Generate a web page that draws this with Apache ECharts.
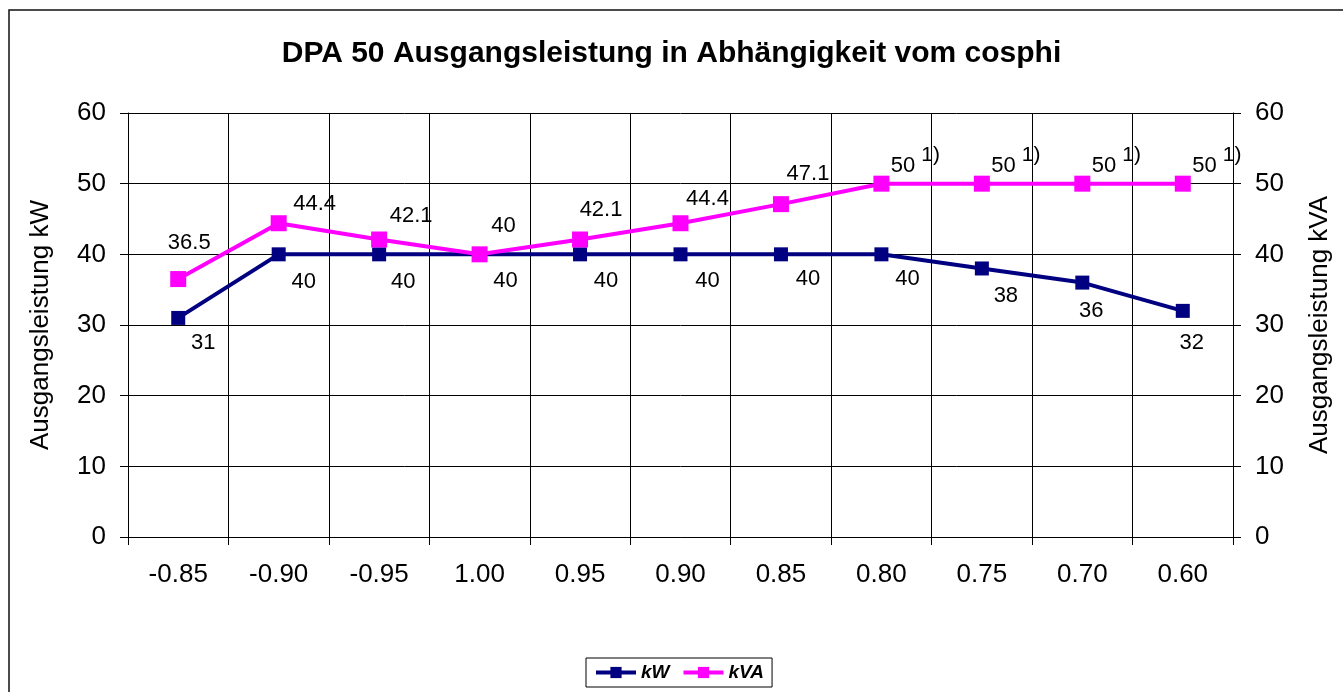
<!DOCTYPE html>
<html>
<head>
<meta charset="utf-8">
<script src="https://cdn.jsdelivr.net/npm/echarts@6/dist/echarts.min.js"></script>
<style>
html,body{margin:0;padding:0;background:#fff;}
#chart{width:1343px;height:692px;}
</style>
</head>
<body>
<div id="chart"></div>
<script>
// ---- data ----
const categories = ['-0.85', '-0.90', '-0.95', '1.00', '0.95', '0.90', '0.85', '0.80', '0.75', '0.70', '0.60'];
const kW = [31, 40, 40, 40, 40, 40, 40, 40, 38, 36, 32];
const kVA = [36.5, 44.4, 42.1, 40, 42.1, 44.4, 47.1, 50, 50, 50, 50];
const kVANotes = ['', '', '', '', '', '', '', '1)', '1)', '1)', '1)'];
const yTicks = [0, 10, 20, 30, 40, 50, 60];

// ---- label placement (style) ----
const kWOffsets = [[25, 25], [25, 28], [24, 28], [26, 27], [26, 27], [27, 27], [27, 25], [26, 25], [24, 27], [9, 28], [9, 32]];
const kVAOffsets = [[11, -36], [36, -19], [32, -24], [24, -28], [21, -30], [27, -24], [27, -30], [34, -23], [34, -23], [34, -23], [34, -23]];

const FONT = '"Liberation Sans", Arial, sans-serif';
const chart = echarts.init(document.getElementById('chart'), null, {renderer: 'canvas'});

const kWData = kW.map((v, i) => ({
  value: v,
  label: {offset: kWOffsets[i]}
}));
const kVAData = kVA.map((v, i) => ({
  value: v,
  label: {offset: kVAOffsets[i]}
}));

const labelBase = {
  show: true,
  position: 'inside',
  color: '#000',
  fontFamily: FONT,
  fontSize: 22
};

chart.setOption({
  animation: false,
  backgroundColor: '#fff',
  textStyle: {fontFamily: FONT},
  title: {
    text: 'DPA 50 Ausgangsleistung in Abhängigkeit vom cosphi',
    left: 'center',
    top: 34,
    textStyle: {fontFamily: FONT, fontWeight: 'bold', fontSize: 30, color: '#000'}
  },
  graphic: [{
    type: 'rect',
    shape: {x: 9, y: 10, width: 1400, height: 800},
    style: {fill: 'none', stroke: '#111', lineWidth: 1.5},
    silent: true,
    z: -1
  }],
  legend: {
    left: 586,
    top: 658,
    padding: [5, 8],
    itemGap: 12,
    itemWidth: 40,
    itemHeight: 14,
    borderColor: '#000',
    borderWidth: 1,
    lineStyle: {width: 4},
    textStyle: {fontFamily: FONT, fontSize: 19, fontWeight: 'bold', fontStyle: 'italic', color: '#000'},
    data: ['kW', 'kVA']
  },
  grid: {left: 128, right: 110, top: 113, bottom: 155},
  xAxis: {
    type: 'category',
    data: categories,
    boundaryGap: true,
    axisLine: {show: true, lineStyle: {color: '#000', width: 1}},
    axisTick: {show: true, length: 8, lineStyle: {color: '#000'}},
    splitLine: {show: true, lineStyle: {color: '#000', width: 1}},
    axisLabel: {color: '#000', fontFamily: FONT, fontSize: 26, margin: 25}
  },
  yAxis: [{
    type: 'value',
    min: yTicks[0],
    max: yTicks[yTicks.length - 1],
    interval: 10,
    name: 'Ausgangsleistung kW',
    nameLocation: 'middle',
    nameRotate: 90,
    nameGap: 74,
    nameTextStyle: {fontFamily: FONT, fontSize: 26, color: '#000'},
    axisLine: {show: true, lineStyle: {color: '#000', width: 1}},
    axisTick: {show: true, length: 8, lineStyle: {color: '#000'}},
    splitLine: {show: true, lineStyle: {color: '#000', width: 1}},
    axisLabel: {color: '#000', fontFamily: FONT, fontSize: 26, margin: 22}
  }, {
    type: 'value',
    position: 'right',
    min: yTicks[0],
    max: yTicks[yTicks.length - 1],
    interval: 10,
    name: 'Ausgangsleistung kVA',
    nameLocation: 'middle',
    nameRotate: 90,
    nameGap: 74,
    nameTextStyle: {fontFamily: FONT, fontSize: 26, color: '#000'},
    axisLine: {show: true, lineStyle: {color: '#000', width: 1}},
    axisTick: {show: true, length: 8, lineStyle: {color: '#000'}},
    splitLine: {show: false},
    axisLabel: {color: '#000', fontFamily: FONT, fontSize: 26, margin: 22}
  }],
  series: [{
    name: 'kW',
    type: 'line',
    yAxisIndex: 0,
    data: kWData,
    symbol: 'rect',
    symbolSize: 14,
    itemStyle: {color: '#000080'},
    lineStyle: {color: '#000080', width: 4},
    label: Object.assign({}, labelBase, {formatter: p => String(p.value)}),
    z: 3
  }, {
    name: 'kVA',
    type: 'line',
    yAxisIndex: 1,
    data: kVAData,
    symbol: 'rect',
    symbolSize: 16,
    itemStyle: {color: '#FF00FF'},
    lineStyle: {color: '#FF00FF', width: 4},
    label: Object.assign({}, labelBase, {
      formatter: p => {
        const note = kVANotes[p.dataIndex];
        return note ? '{v|' + p.value + '} {s|' + note + '}' : '{n|' + p.value + '}';
      },
      rich: {
        n: {fontFamily: FONT, fontSize: 22, color: '#000'},
        v: {fontFamily: FONT, fontSize: 22, color: '#000', lineHeight: 32, verticalAlign: 'bottom'},
        s: {fontFamily: FONT, fontSize: 21, color: '#000', lineHeight: 22, verticalAlign: 'top'}
      }
    }),
    z: 4
  }]
});
</script>
</body>
</html>
